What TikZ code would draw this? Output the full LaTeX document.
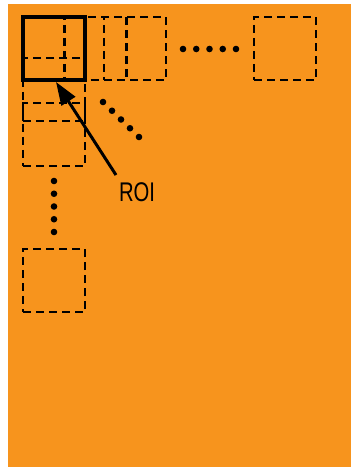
\documentclass[tikz,border=0pt]{standalone}
\usepackage{fontspec}
\setmainfont{Liberation Sans}
\usetikzlibrary{arrows.meta}
\definecolor{bgorange}{RGB}{247,148,29}
\begin{document}
\begin{tikzpicture}[x=1pt,y=-1pt,
  win/.style={draw=black, line width=2.7pt, dash pattern=on 8pt off 5pt, minimum width=62pt, minimum height=63pt, inner sep=0pt, outer sep=0pt},
  roibox/.style={draw=black, line width=4.6pt, minimum width=62pt, minimum height=63pt, inner sep=0pt, outer sep=0pt},
  dotmark/.style={fill=black}]
\useasboundingbox (0,0) rectangle (351,470);
\fill[white] (0,0) rectangle (351,470);
\fill[bgorange] (8,4) rectangle (351,467);
% row of windows
\node[win] (r2) at (95.5,48.5) {};
\node[win] (r3) at (135,48.5) {};
\node[win] (rn) at (285,48.5) {};
% column of windows
\node[win] (c2) at (54,89.5) {};
\node[win] (c3) at (54,134.5) {};
\node[win] (cn) at (54,280.5) {};
% ROI
\node[roibox] (roi) at (54,48.5) {};
% dots
\foreach \x in {183,196.25,209.5,222.75,236} \fill[dotmark] (\x,49) circle (3.3pt);
\foreach \i in {0,...,4} \fill[dotmark] (103+9*\i,102+8.75*\i) circle (3.3pt);
\foreach \y in {181,193.75,206.5,219.25,232} \fill[dotmark] (54,\y) circle (3.3pt);
% label and arrow
\node[font=\fontsize{27}{27}\selectfont, xscale=0.75, inner sep=0pt] (lbl) at (137,192) {ROI};
\coordinate (tail) at (116,175);
\coordinate (tip) at (56,82);
\draw[line width=3pt, -{Triangle[length=23pt,width=16pt]}] (tail) -- (tip);
\end{tikzpicture}
\end{document}
